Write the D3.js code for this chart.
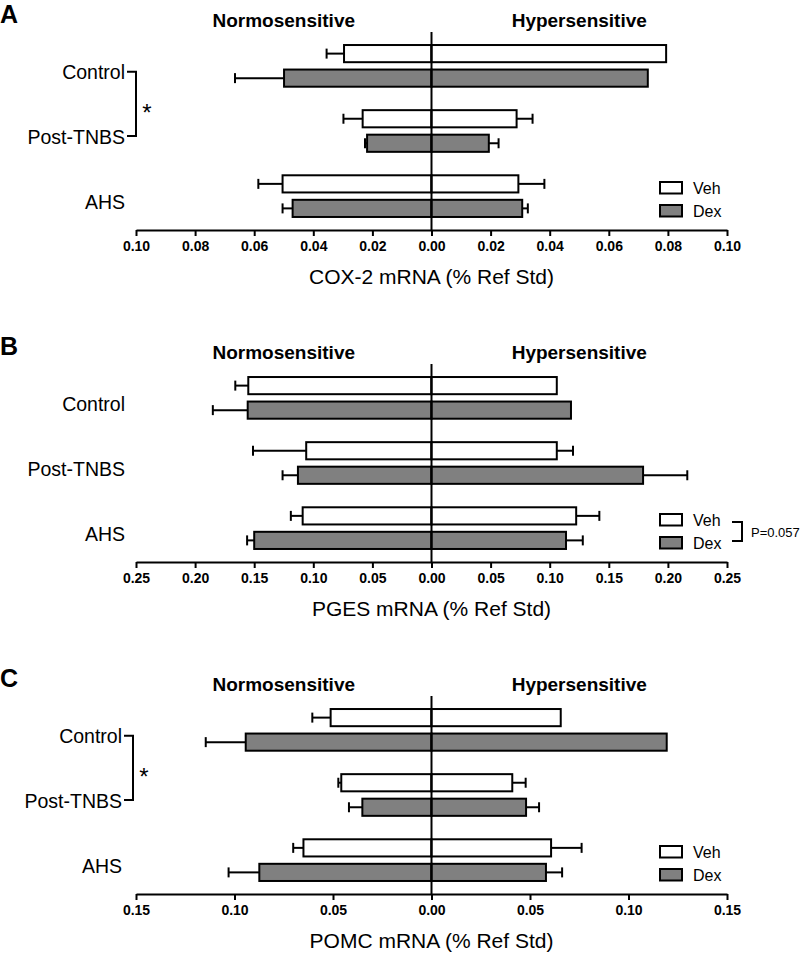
<!DOCTYPE html>
<html><head><meta charset="utf-8">
<script src="https://cdn.jsdelivr.net/npm/d3@7"></script>
<style>
body{margin:0;background:#fff}
text{font-family:"Liberation Sans",Arial,Helvetica,sans-serif;fill:#000}
</style>
</head><body>
<svg id="chart" width="800" height="953"></svg>
<script>
// ---------- data ----------
const categories = ["Control", "Post-TNBS", "AHS"];
const treatments = ["Veh", "Dex"];
const sides = ["Normosensitive", "Hypersensitive"];
const panelLetters = ["A", "B", "C"];
const axisTitles = ["COX-2 mRNA (% Ref Std)", "PGES mRNA (% Ref Std)", "POMC mRNA (% Ref Std)"];
const axisMax = [0.10, 0.25, 0.15];
const ticksA = [-0.10, -0.08, -0.06, -0.04, -0.02, 0, 0.02, 0.04, 0.06, 0.08, 0.10];
const ticksB = [-0.25, -0.20, -0.15, -0.10, -0.05, 0, 0.05, 0.10, 0.15, 0.20, 0.25];
const ticksC = [-0.15, -0.10, -0.05, 0, 0.05, 0.10, 0.15];

// COX-2 (panel A)
const coxNormoVeh    = [0.0296, 0.0233, 0.0504];
const coxNormoVehErr = [0.0059, 0.0065, 0.0082];
const coxNormoDex    = [0.0499, 0.0218, 0.0470];
const coxNormoDexErr = [0.0166, 0.0007, 0.0034];
const coxHyperVeh    = [0.0794, 0.0288, 0.0294];
const coxHyperVehErr = [0, 0.0054, 0.0088];
const coxHyperDex    = [0.0732, 0.0194, 0.0307];
const coxHyperDexErr = [0, 0.0033, 0.0019];

// PGES (panel B)
const pgesNormoVeh    = [0.155, 0.106, 0.109];
const pgesNormoVehErr = [0.011, 0.045, 0.010];
const pgesNormoDex    = [0.1555, 0.113, 0.150];
const pgesNormoDexErr = [0.0295, 0.013, 0.006];
const pgesHyperVeh    = [0.106, 0.106, 0.1224];
const pgesHyperVehErr = [0, 0.0137, 0.0196];
const pgesHyperDex    = [0.118, 0.179, 0.1138];
const pgesHyperDexErr = [0, 0.0374, 0.0142];

// POMC (panel C)
const pomcNormoVeh    = [0.0512, 0.0458, 0.0650];
const pomcNormoVehErr = [0.0093, 0.0015, 0.0052];
const pomcNormoDex    = [0.0943, 0.0351, 0.0874];
const pomcNormoDexErr = [0.0203, 0.0068, 0.0156];
const pomcHyperVeh    = [0.0656, 0.0410, 0.0607];
const pomcHyperVehErr = [0, 0.0068, 0.0155];
const pomcHyperDex    = [0.1194, 0.0480, 0.0581];
const pomcHyperDexErr = [0, 0.0066, 0.0082];

const significance = ["*", "", "*"];
const pNote = ["", "P=0.057", ""];

// ---------- build ----------
const panels = [
  {ticks: ticksA, nv: coxNormoVeh, nve: coxNormoVehErr, nd: coxNormoDex, nde: coxNormoDexErr,
   hv: coxHyperVeh, hve: coxHyperVehErr, hd: coxHyperDex, hde: coxHyperDexErr},
  {ticks: ticksB, nv: pgesNormoVeh, nve: pgesNormoVehErr, nd: pgesNormoDex, nde: pgesNormoDexErr,
   hv: pgesHyperVeh, hve: pgesHyperVehErr, hd: pgesHyperDex, hde: pgesHyperDexErr},
  {ticks: ticksC, nv: pomcNormoVeh, nve: pomcNormoVehErr, nd: pomcNormoDex, nde: pomcNormoDexErr,
   hv: pomcHyperVeh, hve: pomcHyperVehErr, hd: pomcHyperDex, hde: pomcHyperDexErr}
];

const svg = d3.select("#chart");
const fills = {Veh: "#ffffff", Dex: "#808080"};
const labelEnd = [125, 125, 122];

panels.forEach((p, i) => {
  const off = i * 332;
  const top = 32 + off, axisY = 230 + off;
  const g = svg.append("g");
  const x = d3.scaleLinear().domain([-axisMax[i], axisMax[i]]).range([136, 727]);
  const y0 = d3.scaleBand().domain(categories).range([top, axisY]).paddingInner(0.36).paddingOuter(0.2);
  const y1 = d3.scaleBand().domain(treatments).range([0, y0.bandwidth()]).paddingInner(0.3);

  // panel letter
  g.append("text").attr("x", 0).attr("y", 23 + off).attr("font-size", 25).attr("font-weight", "bold").text(panelLetters[i]);
  // side headings
  g.append("text").attr("x", x(-axisMax[i] / 2)).attr("y", 27 + off).attr("text-anchor", "middle")
    .attr("font-size", 19).attr("font-weight", "bold").text(sides[0]);
  g.append("text").attr("x", x(axisMax[i] / 2)).attr("y", 27 + off).attr("text-anchor", "middle")
    .attr("font-size", 19).attr("font-weight", "bold").text(sides[1]);

  // bar records
  const recs = [];
  categories.forEach((c, k) => {
    recs.push({c, t: "Veh", v: -p.nv[k], e: -p.nve[k]});
    recs.push({c, t: "Dex", v: -p.nd[k], e: -p.nde[k]});
    recs.push({c, t: "Veh", v: p.hv[k], e: p.hve[k]});
    recs.push({c, t: "Dex", v: p.hd[k], e: p.hde[k]});
  });

  const yb = d => y0(d.c) + y1(d.t);
  const bh = y1.bandwidth();

  // error bars
  const eb = g.append("g").attr("stroke", "#000").attr("stroke-width", 2);
  recs.filter(d => d.e !== 0).forEach(d => {
    const cy = yb(d) + bh / 2;
    eb.append("line").attr("x1", x(d.v)).attr("x2", x(d.v + d.e)).attr("y1", cy).attr("y2", cy);
    eb.append("line").attr("x1", x(d.v + d.e)).attr("x2", x(d.v + d.e)).attr("y1", cy - 5).attr("y2", cy + 5);
  });

  // bars
  g.append("g").selectAll("rect").data(recs).join("rect")
    .attr("x", d => Math.min(x(0), x(d.v)))
    .attr("width", d => Math.abs(x(d.v) - x(0)))
    .attr("y", d => yb(d))
    .attr("height", bh)
    .attr("fill", d => fills[d.t])
    .attr("stroke", "#000").attr("stroke-width", 2);

  // zero line
  g.append("line").attr("x1", x(0)).attr("x2", x(0)).attr("y1", top).attr("y2", axisY)
    .attr("stroke", "#000").attr("stroke-width", 2);

  // axis
  const ax = g.append("g").attr("transform", `translate(0,${axisY})`)
    .call(d3.axisBottom(x).tickValues(p.ticks).tickFormat(d => Math.abs(d).toFixed(2)).tickSize(6).tickSizeOuter(0));
  ax.select(".domain").attr("stroke", "#000").attr("stroke-width", 2.2);
  ax.selectAll(".tick line").attr("stroke", "#000").attr("stroke-width", 2);
  ax.selectAll(".tick text").attr("font-size", 14).attr("font-weight", "bold")
    .attr("font-family", "'Liberation Sans', Arial, sans-serif").attr("y", 11).attr("dy", "0.71em");

  // axis title
  g.append("text").attr("x", x(0)).attr("y", axisY + 54).attr("text-anchor", "middle")
    .attr("font-size", 21).text(axisTitles[i]);

  // category labels
  categories.forEach(c => {
    g.append("text").attr("x", labelEnd[i]).attr("y", y0(c) + y0.bandwidth() / 2 + 13)
      .attr("text-anchor", "end").attr("font-size", 19.5).text(c);
  });

  // significance bracket (Control vs Post-TNBS)
  if (significance[i]) {
    const ya = y0(categories[0]) + y0.bandwidth() / 2 + 6;
    const yb2 = y0(categories[1]) + y0.bandwidth() / 2 + 5;
    const bx = labelEnd[i] + 11;
    g.append("path").attr("d", `M${labelEnd[i] + 2},${ya}H${bx}V${yb2}H${labelEnd[i] + 2}`)
      .attr("fill", "none").attr("stroke", "#000").attr("stroke-width", 2);
    g.append("text").attr("x", bx + 11).attr("y", (ya + yb2) / 2 + 17).attr("text-anchor", "middle")
      .attr("font-size", 24).text(significance[i]);
  }

  // legend
  const lg = g.append("g");
  treatments.forEach((t, k) => {
    const ly = 182 + off + k * 23;
    lg.append("rect").attr("x", 660).attr("y", ly).attr("width", 22).attr("height", 11.5)
      .attr("fill", fills[t]).attr("stroke", "#000").attr("stroke-width", 2);
    lg.append("text").attr("x", 693).attr("y", ly + 12).attr("font-size", 16).text(t);
  });
  if (pNote[i]) {
    const y1b = 182 + off + 8, y2b = 182 + off + 23 + 4;
    lg.append("path").attr("d", `M732,${y1b}H742V${y2b}H732`).attr("fill", "none")
      .attr("stroke", "#000").attr("stroke-width", 2);
    lg.append("text").attr("x", 751).attr("y", (y1b + y2b) / 2 + 5).attr("font-size", 13).text(pNote[i]);
  }
});
</script>
</body></html>
